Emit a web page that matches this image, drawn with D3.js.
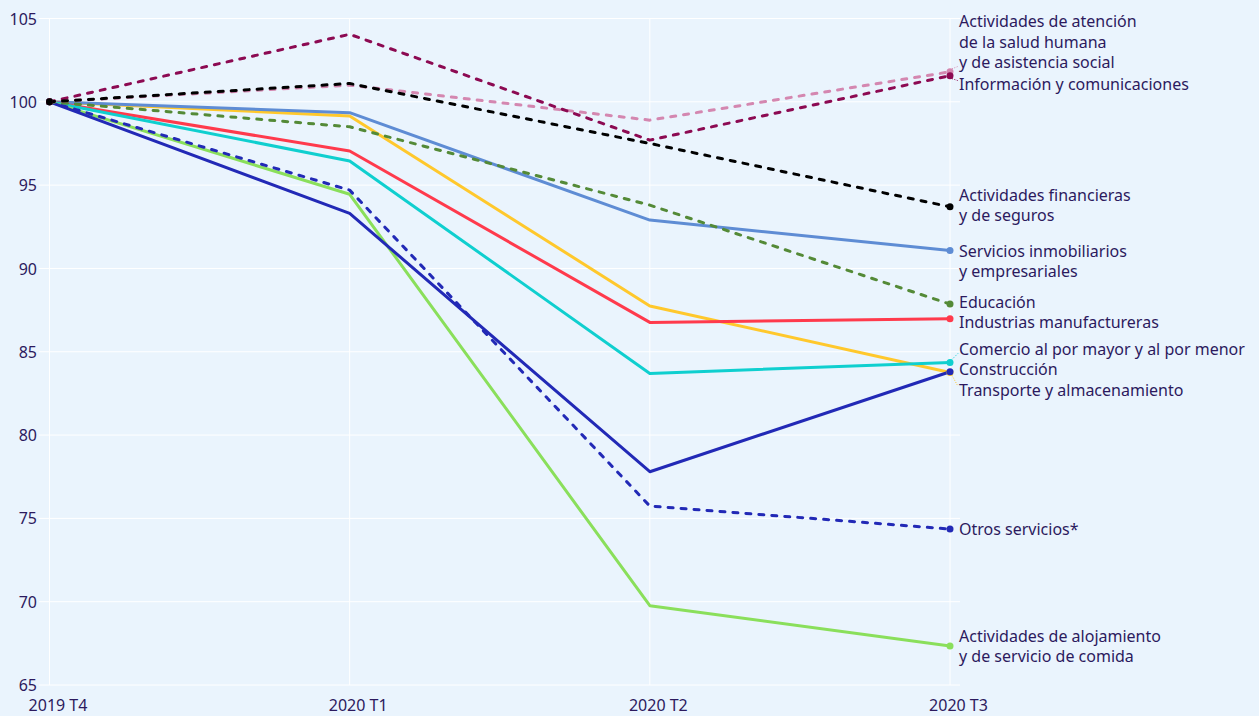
<!DOCTYPE html>
<html>
<head>
<meta charset="utf-8">
<script src="https://cdn.jsdelivr.net/npm/d3@7"></script>
<style>
  html, body { margin: 0; padding: 0; background: #EAF4FD; }
  svg { display: block; }
  text { font-family: "Noto Sans", "Open Sans", sans-serif; }
</style>
</head>
<body>
<svg id="chart" width="1259" height="716"></svg>
<script>
// ---- Data ----
const categories = ["2019 T4", "2020 T1", "2020 T2", "2020 T3"];
const yTicks = [65, 70, 75, 80, 85, 90, 95, 100, 105];

const seriesNames = [
  "Transporte y almacenamiento",
  "Servicios inmobiliarios\ny empresariales",
  "Industrias manufactureras",
  "Comercio al por mayor y al por menor",
  "Actividades de alojamiento\ny de servicio de comida",
  "Construcción",
  "Otros servicios*",
  "Educación",
  "Actividades de atención\nde la salud humana\ny de asistencia social",
  "Información y comunicaciones",
  "Actividades financieras\ny de seguros"
];
const transporte   = [100, 99.15, 87.75, 83.76];
const inmobiliario = [100, 99.35, 92.9, 91.08];
const manufactura  = [100, 97.05, 86.76, 86.98];
const comercio     = [100, 96.45, 83.7, 84.36];
const alojamiento  = [100, 94.45, 69.76, 67.34];
const construccion = [100, 93.3, 77.8, 83.8];
const otros        = [100, 94.7, 75.74, 74.36];
const educacion    = [100, 98.5, 93.8, 87.86];
const salud        = [100, 101.0, 98.9, 101.8];
const informacion  = [100, 104.05, 97.7, 101.57];
const financieras  = [100, 101.1, 97.5, 93.7];

const seriesValues = [transporte, inmobiliario, manufactura, comercio, alojamiento,
  construccion, otros, educacion, salud, informacion, financieras];

// ---- Styles / layout (not data) ----
const colors = ["#FFC82C", "#5E8CD4", "#FF3A4C", "#0FCFCF", "#8ADF5B",
  "#2229B6", "#2229B6", "#548A37", "#D487B0", "#8C0A52", "#000000"];
const dashed = [false, false, false, false, false, false, true, true, true, true, true];
// vertical offset (px) of the first label line from the end point
const labelDy = [18, 1, 3.5, -13, -10, -2, 0, -2, -50, 9, -11.5];

const W = 1259, H = 716;
const svg = d3.select("#chart");
svg.append("rect").attr("width", W).attr("height", H).attr("fill", "#EAF4FD");

const x = d3.scalePoint().domain(categories).range([49.5, 950]);
const y = d3.scaleLinear().domain([65, 105]).range([685, 18.5]);

const gridLeft = 39, gridRight = 960;
const textColor = "#2C1A5E";
const fs = 16;

// grid
const g = svg.append("g");
g.selectAll("line.hg").data(yTicks).enter().append("line")
  .attr("x1", gridLeft).attr("x2", gridRight)
  .attr("y1", d => y(d)).attr("y2", d => y(d))
  .attr("stroke", "#ffffff").attr("stroke-width", 1);
g.selectAll("line.vg").data(categories).enter().append("line")
  .attr("x1", d => x(d)).attr("x2", d => x(d))
  .attr("y1", y(105)).attr("y2", y(65))
  .attr("stroke", "#ffffff").attr("stroke-width", 1);

// axes
const yAxis = d3.axisLeft(y).tickValues(yTicks).tickSize(0).tickPadding(0);
const ya = svg.append("g").attr("transform", "translate(37,0)").call(yAxis);
ya.select(".domain").remove();
ya.selectAll("text").attr("font-size", fs).attr("fill", textColor)
  .attr("font-family", "Noto Sans, sans-serif").attr("dy", "0.35em");

const xAxis = d3.axisBottom(x).tickSize(0).tickPadding(0);
const xa = svg.append("g").attr("transform", "translate(8,705)").call(xAxis);
xa.select(".domain").remove();
xa.selectAll("text").attr("font-size", fs).attr("fill", textColor)
  .attr("font-family", "Noto Sans, sans-serif").attr("y", 0).attr("dy", "0.35em");

// lines
const line = d3.line().x((d, i) => x(categories[i])).y(d => y(d));
const series = seriesValues.map((vals, i) => ({
  name: seriesNames[i], vals, color: colors[i], dashed: dashed[i], dy: labelDy[i]
}));

const lines = svg.append("g");
series.forEach(s => {
  lines.append("path").datum(s.vals)
    .attr("d", line)
    .attr("fill", "none")
    .attr("stroke", s.color)
    .attr("stroke-width", 3)
    .attr("stroke-linejoin", "round")
    .attr("stroke-linecap", s.dashed ? "round" : "butt")
    .attr("stroke-dasharray", s.dashed ? "5,8" : null);
});

// markers (first and last points)
series.forEach(s => {
  [0, s.vals.length - 1].forEach(i => {
    lines.append("circle")
      .attr("cx", x(categories[i])).attr("cy", y(s.vals[i]))
      .attr("r", 3.5).attr("fill", s.color);
  });
});

// labels
const lineH = 20.3;
const lab = svg.append("g");
series.forEach(s => {
  const last = s.vals.length - 1;
  const px = x(categories[last]), py = y(s.vals[last]);
  const parts = s.name.split("\n");
  const firstY = py + s.dy;
  const lastY = firstY + (parts.length - 1) * lineH;
  const target = Math.max(firstY, Math.min(lastY, py));
  if (Math.abs(target - py) > 4) {
    lab.append("line")
      .attr("x1", px + 2).attr("y1", py + (target > py ? 3 : -3))
      .attr("x2", px + 8).attr("y2", target + (target > py ? -4 : 4))
      .attr("stroke", s.color).attr("stroke-width", 1)
      .attr("stroke-dasharray", "1,1.5");
  }
  const t = lab.append("text")
    .attr("x", 959).attr("font-size", fs).attr("fill", textColor);
  parts.forEach((p, k) => {
    t.append("tspan").attr("x", 959).attr("y", firstY + k * lineH)
      .attr("dy", "0.35em").text(p);
  });
});
</script>
</body>
</html>
